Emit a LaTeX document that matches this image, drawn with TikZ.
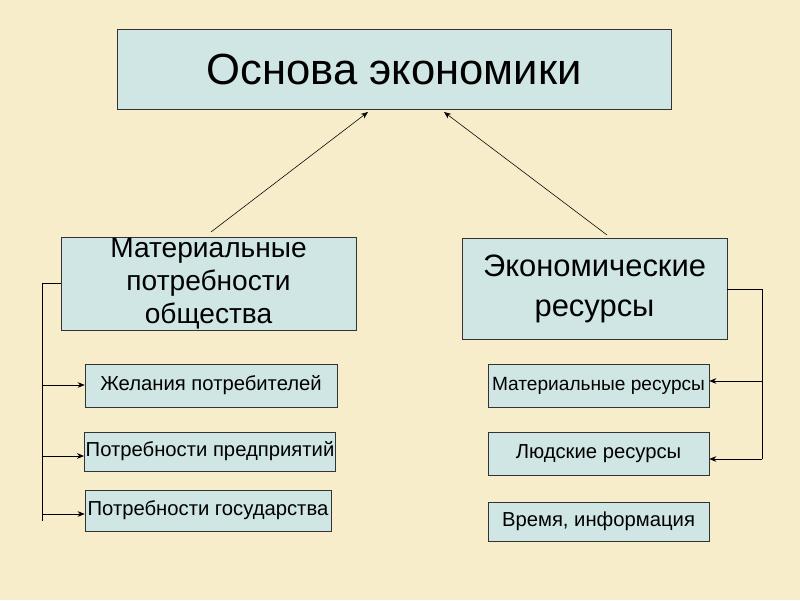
\documentclass[tikz,border=0pt]{standalone}
\usepackage{fontspec}
\setmainfont{Liberation Sans}
\usetikzlibrary{positioning,arrows.meta}
\definecolor{bgBeige}{HTML}{F7EDCB}
\definecolor{boxCyan}{HTML}{CFE6E4}
\definecolor{boxLine}{HTML}{333333}
\tikzset{
  mainbox/.style={draw=boxLine, fill=boxCyan, align=center, inner sep=0pt},
  subbox/.style={draw=boxLine, fill=boxCyan, align=center, font=\fontsize{14.4}{16}\selectfont, inner sep=1pt},
  linkarrow/.style={-{Stealth[length=5pt,width=4pt]}, thin},
}
\begin{document}
\begin{tikzpicture}[x=0.025cm, y=-0.025cm]
\fill[bgBeige] (0,0) rectangle (800,600);

%% Top
\node[mainbox, minimum width=13.85cm, minimum height=2cm, font=\fontsize{31}{36}\selectfont] (base) at (394,69) {Основа экономики};

%% Second row
\node[mainbox, minimum width=7.375cm, minimum height=2.325cm, font=\fontsize{20}{23.5}\selectfont] (needs) at (208.5,283.5) {Материальные\\потребности\\общества};
\node[mainbox, minimum width=6.625cm, minimum height=2.525cm, font=\fontsize{22}{28}\selectfont] (res) at (594.5,289) {Экономические\\ресурсы};
\draw[linkarrow] (211,232) coordinate (nA) -- (368,112) coordinate (tA);
\draw[linkarrow] (607,235) coordinate (nB) -- (444,112) coordinate (tB);

%% Left list
\node[subbox, minimum width=6.3cm, minimum height=1.075cm] (n1) at (211,385.5) {Желания потребителей};
\node[subbox, minimum width=6.25cm, minimum height=0.975cm] (n2) at (210,451.5) {Потребности предприятий};
\node[subbox, minimum width=6.15cm, minimum height=1.025cm] (n3) at (208,510.5) {Потребности государства};

%% Right list
\node[subbox, minimum width=5.525cm, minimum height=1.075cm, inner sep=0pt, font=\fontsize{13.6}{16}\selectfont] (r1) at (598.5,385.5) {Материальные ресурсы};
\node[subbox, minimum width=5.525cm, minimum height=1.075cm] (r2) at (598.5,453.5) {Людские ресурсы};
\node[subbox, minimum width=5.525cm, minimum height=0.975cm] (r3) at (598.5,521.5) {Время, информация};

%% Brackets
\coordinate (lTop) at (42,283);
\coordinate (lBot) at (42,521);
\draw (needs.west |- lTop) -- (lTop) -- (lBot);
\draw[linkarrow] (42,385) -- (n1.west |- 0,385);
\draw[linkarrow] (42,456) -- (n2.west |- 0,456);
\draw[linkarrow] (42,514) -- (n3.west |- 0,514);
\coordinate (rTop) at (762,289);
\coordinate (rBot) at (762,459);
\draw (res.east |- rTop) -- (rTop) -- (rBot);
\draw[linkarrow] (762,381) -- (r1.east |- 0,381);
\draw[linkarrow] (rBot) -- (r2.east |- rBot);
\end{tikzpicture}
\end{document}
